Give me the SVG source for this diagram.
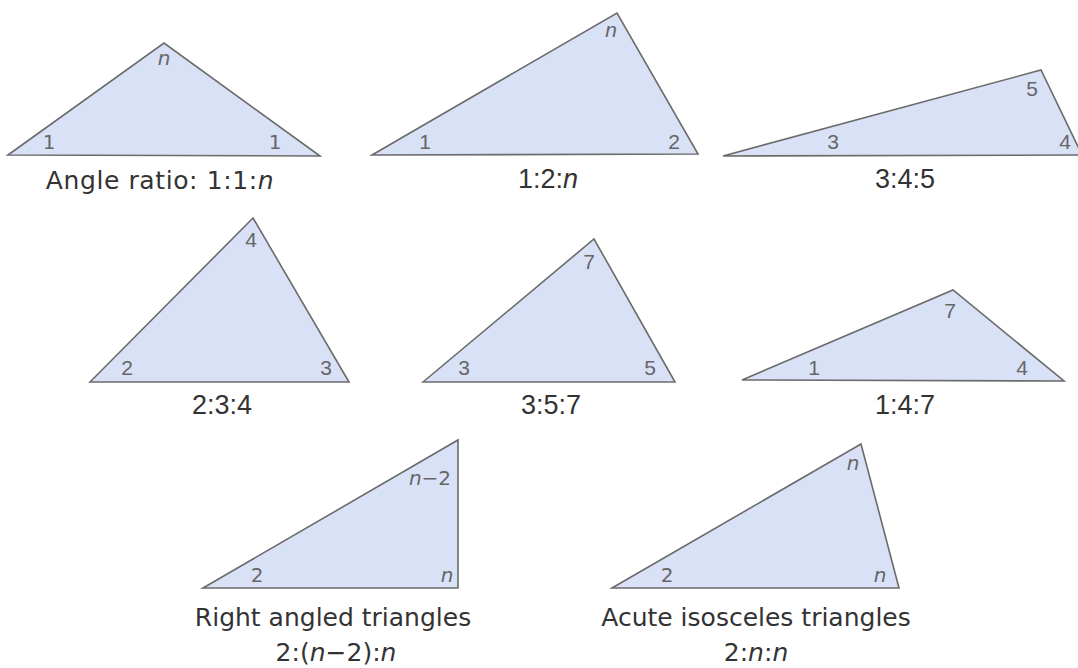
<svg xmlns="http://www.w3.org/2000/svg" width="1078" height="668" viewBox="0 0 1078 668">
<style>
.tri{fill:#d9e1f6;stroke:#6b6b6b;stroke-width:1.6;stroke-linejoin:miter}
.lab{font-family:"Liberation Sans",Arial,sans-serif;font-size:21px;fill:#666;text-anchor:middle}
.labr{font-family:"DejaVu Sans","Liberation Sans",sans-serif;font-size:20px;fill:#666;text-anchor:middle}
.cap{font-family:"Liberation Sans",Arial,sans-serif;font-size:27px;fill:#333;text-anchor:middle}
.capr{font-family:"DejaVu Sans","Liberation Sans",sans-serif;font-size:25px;fill:#333;text-anchor:middle}
.i{font-style:italic}
</style>
<rect width="1078" height="668" fill="#fff"/>
<g id="t1">
<polygon class="tri" points="8,155 164,43 320,156"/>
<text class="labr i" x="164" y="65">n</text>
<text class="labr" x="49" y="149">1</text>
<text class="labr" x="275" y="149">1</text>
<text class="capr" x="160" y="189" font-size="26" letter-spacing="0.6">Angle ratio: 1:1:<tspan class="i">n</tspan></text>
</g>
<g id="t2">
<polygon class="tri" points="372,155 617,13 698,154"/>
<text class="lab i" x="611" y="37">n</text>
<text class="lab" x="425" y="149">1</text>
<text class="lab" x="674" y="149">2</text>
<text class="cap" x="548" y="188">1:2:<tspan class="i">n</tspan></text>
</g>
<g id="t3">
<polygon class="tri" points="723,156 1041,70 1082,155"/>
<text class="lab" x="1032" y="96">5</text>
<text class="lab" x="833" y="149">3</text>
<text class="lab" x="1065" y="149">4</text>
<text class="cap" x="905" y="188">3:4:5</text>
</g>
<g id="t4">
<polygon class="tri" points="90,382 253,218 349,382"/>
<text class="lab" x="251" y="247">4</text>
<text class="lab" x="127" y="375">2</text>
<text class="lab" x="326" y="375">3</text>
<text class="cap" x="222" y="414">2:3:4</text>
</g>
<g id="t5">
<polygon class="tri" points="423,382 594,239 675,382"/>
<text class="lab" x="589" y="269">7</text>
<text class="lab" x="464" y="375">3</text>
<text class="lab" x="650" y="375">5</text>
<text class="cap" x="551" y="414">3:5:7</text>
</g>
<g id="t6">
<polygon class="tri" points="742,380 953,290 1064,381"/>
<text class="lab" x="950" y="318">7</text>
<text class="lab" x="814" y="375">1</text>
<text class="lab" x="1022" y="375">4</text>
<text class="cap" x="905" y="414">1:4:7</text>
</g>
<g id="t7">
<polygon class="tri" points="203,588 458,440 458,588"/>
<text class="labr" x="430" y="485"><tspan class="i">n</tspan>−2</text>
<text class="labr" x="257" y="582">2</text>
<text class="labr i" x="447" y="582">n</text>
<text class="capr" x="333" y="626">Right angled triangles</text>
<text class="capr" x="336" y="661">2:(<tspan class="i">n</tspan>−2):<tspan class="i">n</tspan></text>
</g>
<g id="t8">
<polygon class="tri" points="612,588 861,444 899,588"/>
<text class="labr i" x="853" y="470">n</text>
<text class="labr" x="667" y="582">2</text>
<text class="labr i" x="880" y="582">n</text>
<text class="capr" x="756" y="626">Acute isosceles triangles</text>
<text class="capr" x="756" y="661">2:<tspan class="i">n</tspan>:<tspan class="i">n</tspan></text>
</g>
<g id="connectors"/>
</svg>
